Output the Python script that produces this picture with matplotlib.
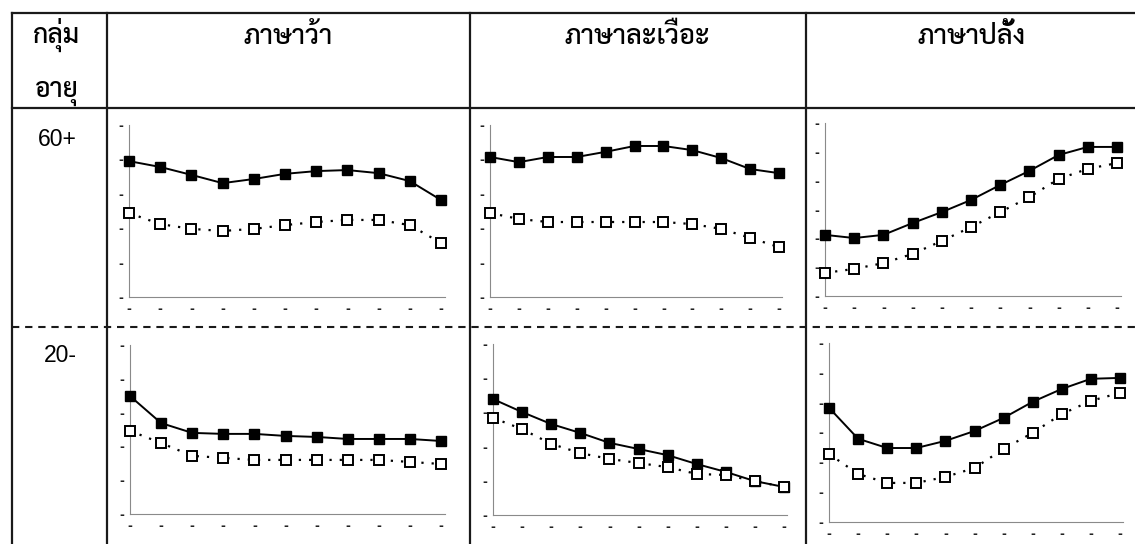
import matplotlib
matplotlib.use("Agg")
import matplotlib.pyplot as plt
from matplotlib.lines import Line2D
import numpy as np

W, H = 1135, 544

# row / column labels
age_groups = ["60+", "20-"]
languages = ["ภาษาว้า", "ภาษาละเวือะ", "ภาษาปลั้ง"]
corner_label = ["กลุ่ม", "อายุ"]

x_points = list(range(11))

# 60+ rows (filled = solid line, open = dotted line)
wa_old_filled = [3.95, 3.78, 3.55, 3.31, 3.43, 3.58, 3.66, 3.69, 3.60, 3.37, 2.82]
wa_old_open = [2.44, 2.12, 1.98, 1.92, 1.98, 2.09, 2.18, 2.24, 2.24, 2.09, 1.57]
lawa_old_filled = [4.07, 3.92, 4.07, 4.07, 4.22, 4.39, 4.39, 4.27, 4.04, 3.72, 3.60]
lawa_old_open = [2.44, 2.27, 2.18, 2.18, 2.18, 2.18, 2.18, 2.12, 1.98, 1.72, 1.45]
plang_old_filled = [2.12, 2.01, 2.12, 2.53, 2.91, 3.33, 3.85, 4.34, 4.89, 5.17, 5.17]
plang_old_open = [0.80, 0.94, 1.14, 1.46, 1.91, 2.39, 2.91, 3.43, 4.06, 4.41, 4.61]

# 20- rows
wa_young_filled = [3.49, 2.69, 2.40, 2.37, 2.37, 2.31, 2.28, 2.22, 2.22, 2.22, 2.16]
wa_young_open = [2.46, 2.10, 1.72, 1.66, 1.60, 1.60, 1.60, 1.60, 1.60, 1.54, 1.48]
lawa_young_filled = [3.39, 3.01, 2.66, 2.40, 2.11, 1.93, 1.75, 1.49, 1.26, 0.99, 0.82]
lawa_young_open = [2.84, 2.51, 2.08, 1.81, 1.64, 1.52, 1.40, 1.20, 1.17, 0.99, 0.82]
plang_young_filled = [3.83, 2.79, 2.48, 2.48, 2.72, 3.05, 3.49, 4.03, 4.46, 4.80, 4.83]
plang_young_open = [2.28, 1.61, 1.31, 1.31, 1.51, 1.81, 2.45, 2.99, 3.62, 4.06, 4.33]

y_max = [[5, 5, 6], [5, 5, 6]]

series = [
    [(wa_old_filled, wa_old_open), (lawa_old_filled, lawa_old_open), (plang_old_filled, plang_old_open)],
    [(wa_young_filled, wa_young_open), (lawa_young_filled, lawa_young_open), (plang_young_filled, plang_young_open)],
]

thai = ["Sarabun", "Noto Sans Thai Looped", "Anuphan", "DejaVu Sans"]

fig = plt.figure(figsize=(W / 100, H / 100), dpi=100)


def fx(px):
    return px / W


def fy(py):
    return 1 - py / H


def hline(y, x0, x1, **kw):
    fig.add_artist(Line2D([fx(x0), fx(x1)], [fy(y), fy(y)], transform=fig.transFigure, **kw))


def vline(x, y0, y1, **kw):
    fig.add_artist(Line2D([fx(x), fx(x)], [fy(y0), fy(y1)], transform=fig.transFigure, **kw))


# table grid
lc = "#1a1a1a"
hline(13, 12, W, color=lc, lw=1.6)
hline(108, 12, W, color=lc, lw=1.6)
hline(327, 12, W, color=lc, lw=1.5, linestyle=(0, (3.5, 2.8)))
for xv in [12, 107, 470, 806]:
    vline(xv, 13, H, color=lc, lw=1.6)

# header texts
fig.text(fx(57), fy(43), corner_label[0], ha="center", va="baseline", fontsize=19, family=thai, weight=500)
fig.text(fx(57), fy(97), corner_label[1], ha="center", va="baseline", fontsize=19, family=thai, weight=500)
for cx, lab in zip([288, 637, 972], languages):
    fig.text(fx(cx), fy(44), lab, ha="center", va="baseline", fontsize=19.5, family=thai, weight=500)

fig.text(fx(57.5), fy(146), age_groups[0], ha="center", va="baseline", fontsize=16.5, family="Liberation Sans")
fig.text(fx(60.5), fy(362), age_groups[1], ha="center", va="baseline", fontsize=16.5, family="Liberation Sans")

# axes boxes in pixels: (x at point 0, x at point 10, y top tick, y bottom axis)
boxes = [
    [(129, 441, 125, 297), (490, 779, 125, 297), (825, 1117, 123, 296)],
    [(130, 441, 345, 514), (493, 784, 344, 515), (829, 1120, 343, 522)],
]

for r in range(2):
    for c in range(3):
        x0, x1, yt, yb = boxes[r][c]
        xr = 10.12
        left = fx(x0)
        width = (x1 - x0) / 10 * xr / W
        bottom = fy(yb)
        height = (yb - yt) / H
        ax = fig.add_axes([left, bottom, width, height])
        filled, opened = series[r][c]
        ax.plot(x_points, filled, color="black", lw=1.4, marker="s", ms=7.2,
                mfc="black", mec="black", clip_on=False, zorder=3)
        ax.plot(x_points, opened, color="black", lw=1.6, linestyle=(0, (1, 3.6)),
                marker="s", ms=7, mfc="white", mec="black", mew=1.4,
                clip_on=False, zorder=4)
        ax.set_xlim(0, xr)
        ax.set_ylim(0, y_max[r][c])
        ax.set_yticks(range(y_max[r][c] + 1))
        ax.set_xticks(x_points)
        ax.set_yticklabels(["-"] * (y_max[r][c] + 1))
        ax.set_xticklabels(["-"] * len(x_points))
        ax.tick_params(length=0, labelsize=8.5, pad=4, colors="#222222")
        for lab in ax.get_xticklabels() + ax.get_yticklabels():
            lab.set_fontweight("bold")
        for s in ["top", "right"]:
            ax.spines[s].set_visible(False)
        for s in ["left", "bottom"]:
            ax.spines[s].set_color("#8a8a8a")
            ax.spines[s].set_linewidth(0.8)
        ax.patch.set_alpha(0)

fig.savefig("out.png", dpi=100)
